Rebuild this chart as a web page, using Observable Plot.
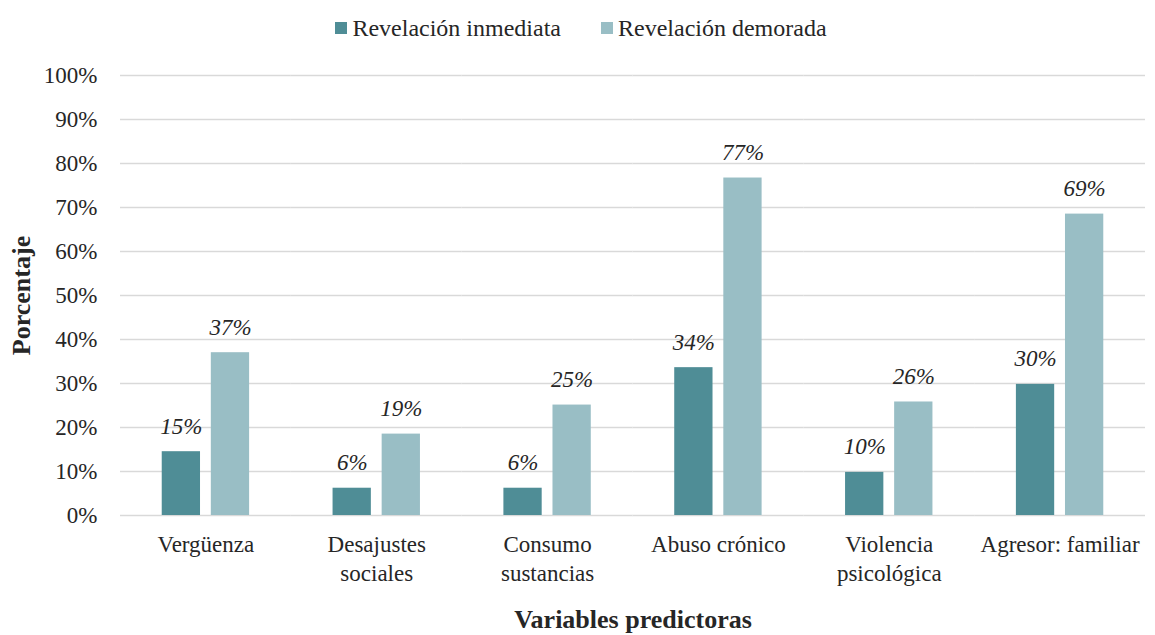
<!DOCTYPE html>
<html><head><meta charset="utf-8">
<script src="https://cdn.jsdelivr.net/npm/d3@7"></script>
<script src="https://cdn.jsdelivr.net/npm/@observablehq/plot@0.6"></script>
<style>
body{margin:0;background:#fff;font-family:"Liberation Serif","Times New Roman",serif;color:#262626;width:1155px;height:635px;overflow:hidden}
#legend{height:45px;padding-top:5px;display:flex;justify-content:center;gap:40px;font-size:24px;line-height:1;margin-left:7px}
.item{display:inline-flex;align-items:center;gap:5px}
.sw{display:inline-block;width:12px;height:12px}
#chart svg{display:block}
</style></head><body>
<div id="legend"></div>
<div id="chart"></div>
<script>
const categories = ["Vergüenza", "Desajustes\nsociales", "Consumo\nsustancias", "Abuso crónico", "Violencia\npsicológica", "Agresor: familiar"];
const series = ["Revelación inmediata", "Revelación demorada"];
const inmediata = [14.5, 6.2, 6.2, 33.6, 9.8, 29.8];
const demorada = [37.0, 18.5, 25.1, 76.7, 25.8, 68.5];
const colors = ["#4f8d96", "#99bec5"];
const yTicks = [0, 10, 20, 30, 40, 50, 60, 70, 80, 90, 100];
const yTitle = "Porcentaje";
const xTitle = "Variables predictoras";

const data = categories.flatMap((c, i) => [
  {cat: c, serie: series[0], v: inmediata[i]},
  {cat: c, serie: series[1], v: demorada[i]}
]);

const legend = document.getElementById("legend");
series.forEach((s, i) => {
  const it = document.createElement("span");
  it.className = "item";
  const sw = document.createElement("span");
  sw.className = "sw";
  sw.style.background = colors[i];
  const t = document.createElement("span");
  t.textContent = s;
  it.append(sw, t);
  legend.append(it);
});

const chart = Plot.plot({
  width: 1155,
  height: 585,
  marginTop: 25,
  marginBottom: 120,
  marginLeft: 120,
  marginRight: 10,
  style: {fontFamily: "'Liberation Serif', 'Times New Roman', serif", fontSize: "23px", color: "#262626", background: "#fff", overflow: "visible"},
  fx: {domain: categories, padding: 0, round: false, label: null, axis: null},
  x: {domain: series, axis: null, round: false, paddingInner: 0.22, paddingOuter: 0.85},
  y: {domain: [0, 100], label: null, axis: null},
  color: {domain: series, range: colors},
  marks: [
    Plot.gridY(yTicks, {stroke: "#d9d9d9", strokeWidth: 1.5, strokeOpacity: 1}),
    Plot.barY(data, {fx: "cat", x: "serie", y: "v", fill: "serie"}),
    Plot.text(data, {fx: "cat", x: "serie", y: "v", text: d => Math.round(d.v) + "%", fontStyle: "italic", lineAnchor: "bottom", dy: -18, fontSize: 23, fill: "#262626"}),
    Plot.axisY({ticks: yTicks, tickFormat: d => d + "%", tickSize: 0, tickPadding: 23, fontSize: 23, label: null}),
    Plot.axisY({ticks: [], tickSize: 0, label: yTitle, labelAnchor: "center", labelArrow: "none", labelOffset: 109, fontWeight: "bold", fontSize: 26}),
    Plot.axisFx({anchor: "bottom", tickSize: 0, tickPadding: 16, fontSize: 23, lineHeight: 1.27, label: null}),
    Plot.axisFx({anchor: "bottom", ticks: [], tickSize: 0, label: xTitle, labelAnchor: "center", labelArrow: "none", labelOffset: 112, fontWeight: "bold", fontSize: 26})
  ]
});
document.getElementById("chart").append(chart);
</script>
</body></html>
